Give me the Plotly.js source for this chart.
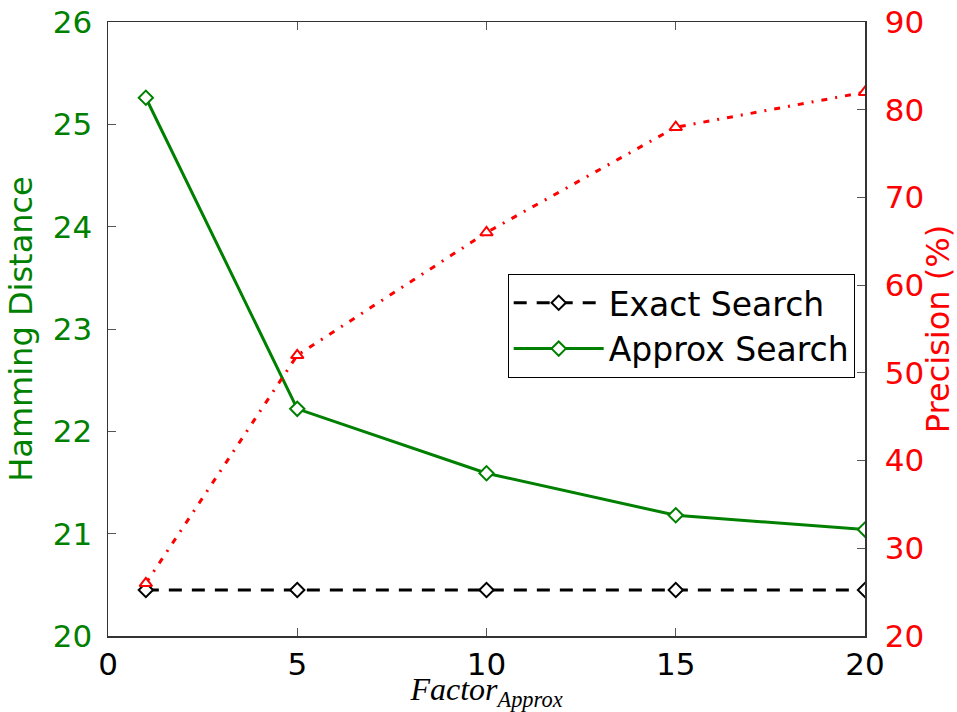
<!DOCTYPE html>
<html>
<head>
<meta charset="utf-8">
<script src="https://cdn.plot.ly/plotly-3.0.1.min.js"></script>
<style>html,body{margin:0;padding:0;background:#fff;}#chart{width:957px;height:712px;}</style>
</head>
<body>
<div id="chart"></div>
<script>
const factors = [1, 5, 10, 15, 20];
const exactHamming = [20.45, 20.45, 20.45, 20.45, 20.45];
const approxHamming = [25.26, 22.22, 21.59, 21.18, 21.04];
const precision = [26, 52, 66, 78, 82];

const traces = [
  {
    x: factors, y: exactHamming, name: 'Exact Search', type: 'scatter', mode: 'lines+markers',
    line: {color: '#000000', width: 3, dash: '13px,10px'},
    marker: {symbol: 'diamond', size: 11, color: '#ffffff', line: {width: 2, color: '#000000'}},
    yaxis: 'y'
  },
  {
    x: factors, y: approxHamming, name: 'Approx Search', type: 'scatter', mode: 'lines+markers',
    line: {color: '#008000', width: 3},
    marker: {symbol: 'diamond', size: 11, color: '#ffffff', line: {width: 2, color: '#008000'}},
    yaxis: 'y'
  },
  {
    x: factors, y: precision, name: 'Precision', type: 'scatter', mode: 'lines+markers',
    line: {color: '#ff0000', width: 3, dash: '6px,8px,2px,8px'},
    marker: {symbol: 'triangle-up', size: 11, color: '#ffffff', line: {width: 2, color: '#ff0000'}},
    yaxis: 'y2', showlegend: false
  }
];

const tickFont = {family: 'DejaVu Sans', size: 31};
const layout = {
  width: 957, height: 712,
  margin: {l: 108, r: 92, t: 22, b: 76},
  paper_bgcolor: '#ffffff', plot_bgcolor: '#ffffff',
  showlegend: true,
  legend: {
    x: 0.528, y: 0.59, xanchor: 'left', yanchor: 'top',
    bordercolor: '#000000', borderwidth: 1, bgcolor: '#ffffff',
    font: {family: 'DejaVu Sans', size: 33, color: '#000000'},
    traceorder: 'normal', itemwidth: 90, tracegroupgap: 0
  },
  xaxis: {
    range: [0, 20], dtick: 5, tick0: 0,
    ticks: 'inside', ticklen: 8, tickwidth: 1, tickcolor: '#555555',
    showline: true, linecolor: '#333333', linewidth: 1.5, mirror: 'ticks',
    showgrid: false, zeroline: false,
    tickfont: Object.assign({color: '#000000'}, tickFont),
    title: {text: '<i>Factor</i><sub><i>Approx</i></sub>', font: {family: 'Liberation Serif', size: 32, color: '#000000'}, standoff: 8}
  },
  yaxis: {
    range: [20, 26], dtick: 1,
    ticks: 'inside', ticklen: 8, tickwidth: 1, tickcolor: '#555555',
    showline: true, linecolor: '#333333', linewidth: 1.5, mirror: true,
    showgrid: false, zeroline: false, ticklabelstandoff: 8,
    tickfont: Object.assign({color: '#008000'}, tickFont),
    title: {text: 'Hamming Distance', font: {family: 'DejaVu Sans', size: 32, color: '#008000'}, standoff: 10}
  },
  yaxis2: {
    range: [20, 90], dtick: 10, overlaying: 'y', side: 'right',
    ticks: 'inside', ticklen: 8, tickwidth: 1, tickcolor: '#555555',
    showline: true, linecolor: '#333333', linewidth: 1.5,
    showgrid: false, zeroline: false, ticklabelstandoff: 12,
    tickfont: Object.assign({color: '#ff0000'}, tickFont),
    title: {text: 'Precision (%)', font: {family: 'DejaVu Sans', size: 32, color: '#ff0000'}, standoff: 8}
  }
};

Plotly.newPlot('chart', traces, layout, {displayModeBar: false, staticPlot: true});
</script>
</body>
</html>
